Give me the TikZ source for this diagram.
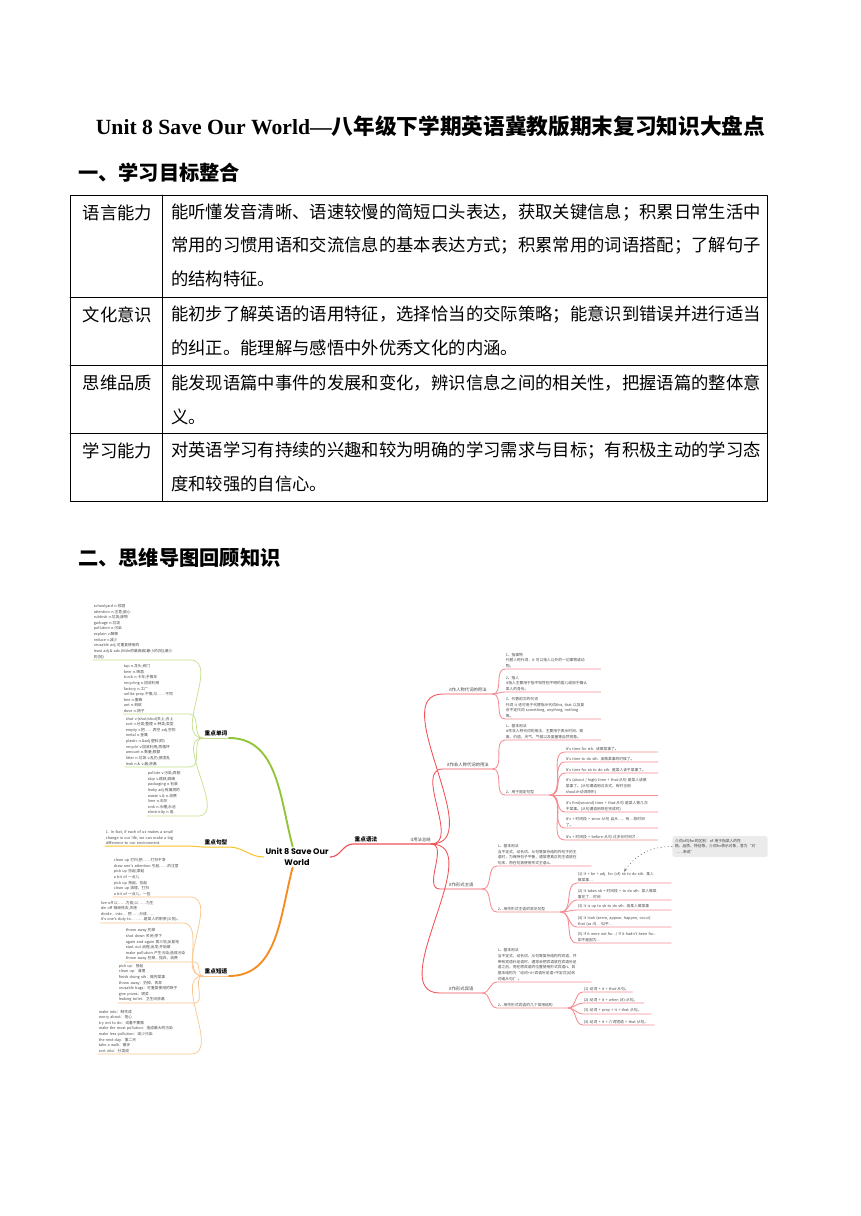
\documentclass[tikz,border=0pt]{standalone}
\usepackage{fontspec}
\setmainfont{Liberation Serif}
\newfontfamily\cjk{Noto Sans CJK SC}
\newfontfamily\pop{Poppins}
\usetikzlibrary{arrows.meta}

\definecolor{grn}{RGB}{146,196,56}
\definecolor{grnl}{RGB}{196,222,140}
\definecolor{ylw}{RGB}{250,196,40}
\definecolor{org}{RGB}{247,140,30}
\definecolor{orgl}{RGB}{250,196,140}
\definecolor{rd}{RGB}{240,82,88}
\definecolor{rdl}{RGB}{244,140,146}

\tikzset{
  cellt/.style={font=\cjk\fontsize{12}{14}\selectfont, anchor=west, inner sep=0pt},
  heading/.style={font=\cjk\bfseries\fontsize{14}{16}\selectfont, anchor=west, inner sep=0pt},
  leaf/.style={font=\cjk\fontsize{2.6}{3.9}\selectfont, text=black!72, align=left,
    text width=#1, inner xsep=0.4pt, inner ysep=0.6pt, anchor=south west},
  topic/.style={font=\cjk\bfseries\fontsize{3.9}{4.5}\selectfont, inner xsep=1pt,
    inner ysep=1.2pt, anchor=south west},
  itlbl/.style={font=\cjk\fontsize{3}{3.6}\selectfont, text=black!75, minimum width=#1,
    inner xsep=0pt, inner ysep=1pt, anchor=south west},
  twig/.style={line width=0.5pt, line cap=round},
}

\begin{document}
\begin{tikzpicture}[x=0.6922pt,y=-0.6922pt,line cap=round,line join=round]
  \useasboundingbox (0,0) rectangle (860,1216);

  % title and headings
  \node[anchor=base, inner sep=0pt, font=\fontsize{15}{18}\selectfont] (title) at (430.5,134.3)
    {\bfseries Unit 8 Save Our World—{\cjk 八年级下学期英语冀教版期末复习知识大盘点}};
  \node[heading] (h1) at (78,172.5) {一、学习目标整合};
  \node[heading] (h2) at (78,558) {二、思维导图回顾知识};

  % table
  \draw[line width=0.6pt] (70,195) rectangle (767,501);
  \draw[line width=0.6pt] (162,195) -- (162,501);
  \foreach \y in {297,365,433}
    \draw[line width=0.6pt] (70,\y) -- (767,\y);

  \node[cellt] (c1) at (82.5,213) {语言能力};
  \node[cellt] (c1a) at (171,213) {能听懂发音清晰、语速较慢的简短口头表达，获取关键信息；积累日常生活中};
  \node[cellt] (c1b) at (171,246) {常用的习惯用语和交流信息的基本表达方式；积累常用的词语搭配；了解句子};
  \node[cellt] (c1c) at (171,279) {的结构特征。};
  \node[cellt] (c2) at (82.5,315) {文化意识};
  \node[cellt] (c2a) at (171,315) {能初步了解英语的语用特征，选择恰当的交际策略；能意识到错误并进行适当};
  \node[cellt] (c2b) at (171,348) {的纠正。能理解与感悟中外优秀文化的内涵。};
  \node[cellt] (c3) at (82.5,383) {思维品质};
  \node[cellt] (c3a) at (171,383) {能发现语篇中事件的发展和变化，辨识信息之间的相关性，把握语篇的整体意};
  \node[cellt] (c3b) at (171,417) {义。};
  \node[cellt] (c4) at (82.5,451) {学习能力};
  \node[cellt] (c4a) at (171,451) {对英语学习有持续的兴趣和较为明确的学习需求与目标；有积极主动的学习态};
  \node[cellt] (c4b) at (171,484) {度和较强的自信心。};

  % mind map: root
  \node[font=\pop\bfseries\fontsize{5.6}{7.6}\selectfont, align=center, inner sep=1pt]
    (root) at (297,857) {Unit 8 Save Our\\World};

  % words (green)
  \node[topic] (kw) at (203,738) {重点单词};
  \draw[grnl, twig] (kw.south west) -- (kw.south east);
  \draw[grn, line width=1.3pt] (kw.south east) to[out=0,in=105] ([xshift=-3pt]root.north);

  \node[leaf=66pt] (gA) at (93,660) {schoolyard n.校园\\attention n.注意;留心\\rubbish n.垃圾;废物\\garbage n.垃圾\\pollution n.污染\\explain v.解释\\reduce v.减少\\reusable adj.可重复使用的\\\mbox{least adj.\& adv.(little的最高级)最小的(地);最少}\\的(地)};
  \node[leaf=45pt] (gB) at (123,714) {tap n.龙头;阀门\\beer n.啤酒\\truck n.卡车;手推车\\recycling n.回收利用\\factory n.工厂\\\mbox{unlike prep.不像;与……不同}\\bee n.蜜蜂\\ant n.蚂蚁\\dove n.鸽子};
  \node[leaf=44pt] (gC) at (125,767) {shut v.(shut/shut)关上;合上\\\mbox{sort v.分类;整理 n.种类;类型}\\empty v.把……弄空 adj.空的\\metal n.金属\\plastic n.\&adj.塑料(的)\\recycle v.回收利用;再循环\\amount n.数量;数额\\\mbox{litter n.垃圾 v.乱扔;使凌乱}\\leak n.\& v.漏;渗漏};
  \node[leaf=34pt] (gD) at (147,816) {pollute v.污染;弄脏\\skip v.跳跃;跳绳\\packaging n.包装\\leaky adj.有漏洞的\\waste v.\& n.浪费\\lime n.石灰\\sink n.水槽;水池\\electricity n.电};
  \foreach \g in {gA,gB,gC,gD}
    \draw[grnl, twig] (\g.south west) -- (\g.south east) to[out=0,in=180] (kw.south west);

  % sentence (yellow)
  \node[leaf=58pt] (ys) at (105,846) {1. In fact, if each of us makes a small\\change in our life, we can make a big\\difference to our environment.};
  \node[topic] (kj) at (203,847) {重点句型};
  \draw[ylw, line width=0.7pt] (ys.south west) -- (ys.south east) -- (kj.south west)
    -- (kj.south east) to[out=0,in=180] (root.west);

  % phrases (orange)
  \node[topic] (kp) at (203,976) {重点短语};
  \draw[orgl, twig] (kp.south west) -- (kp.south east);
  \draw[org, line width=1.3pt] (kp.south east) to[out=0,in=-105] ([xshift=-3pt]root.south);

  \node[leaf=52pt] (oA) at (113,897) {clean up 打扫;把……打扫干净\\\mbox{draw one's attention 引起……的注意}\\pick up 捡起;拿起\\a bit of 一点儿\\pick up 拾起，捡起\\clean up 清理，打扫\\a bit of 一点儿，一些};
  \node[leaf=56pt] (oB) at (100,923) {live off 以……为食;以……为生\\die off 相继死去;灭绝\\divide…into… 把……分成……\\\mbox{It's one's duty to… ……是某人的职责(义务)。}};
  \node[leaf=47pt] (oC) at (125,962) {throw away 扔掉\\shut down 关闭;停下\\again and again 再三地;反复地\\start out 启程;出发;开始做\\\mbox{make pollution 产生污染;造成污染}\\throw away 扔掉，抛弃，浪费};
  \node[leaf=52pt] (oD) at (118,1003) {pick up：拾起\\clean up：清理\\finish doing sth：做完某事\\throw away：扔掉，丢弃\\reusable bags：可重复使用的袋子\\give prizes：颁奖\\leaking toilet：卫生间渗漏};
  \node[leaf=63pt] (oE) at (98,1054) {make into：制作成\\worry about：担心\\try not to do：试着不要做\\make the most pollution：造成最大的污染\\make less pollution：减少污染\\the next day：第二天\\take a walk：散步\\sort into：分类成};
  \foreach \o in {oA,oB,oC,oD,oE}
    \draw[orgl, twig] (\o.south west) -- (\o.south east) to[out=0,in=180] (kp.south west);

  % grammar (red)
  \node[topic] (kg) at (353,844) {重点语法};
  \node[itlbl=0pt, anchor=south east] (ku) at (431,844) {it用法总结};
  \draw[rd, line width=0.8pt] (root.east) to[out=0,in=180] (kg.south west) -- (ku.south east);

  \node[itlbl=34pt] (s1) at (443,694) {it作人称代词的用法};
  \node[itlbl=34pt] (s2) at (443,769) {it作非人称代词的用法};
  \node[itlbl=29pt] (s3) at (440,889) {it作形式主语};
  \node[itlbl=29pt] (s4) at (440,993) {it作形式宾语};
  \foreach \s in {s1,s2,s3,s4}
    \draw[rd, line width=0.6pt] (ku.south east) to[out=0,in=180] (\s.south west) -- (\s.south east);

  % it as personal pronoun
  \node[leaf=65pt] (p1) at (505,669) {1、指事物\\代替人称代词，it 可以指人以外的一切事物或动\\物。};
  \node[leaf=65pt] (p2) at (505,692) {2、指人\\it指人主要用于指不知性别不明的婴儿或用于确认\\某人的身份。};
  \node[leaf=65pt] (p3) at (505,719) {3、代替前文的代词\\代词 it 还可用于代替指示代词this, that 以及复\\合不定代词 something, anything, nothing\\等。};
  \foreach \p in {p1,p2,p3}
    \draw[rdl, line width=0.6pt] (s1.south east) to[out=0,in=180] (\p.south west) -- (\p.south east);

  % it as impersonal pronoun
  \node[leaf=65pt] (q1) at (505,740) {1、基本用法\\it作非人称代词的用法，主要用于表示时间、距\\离、价值、天气、气候以及度量等自然现象。};
  \node[leaf=30pt] (q2) at (505,795) {2、用于固定句型};
  \foreach \q in {q1,q2}
    \draw[rdl, line width=0.6pt] (s2.south east) to[out=0,in=180] (\q.south west) -- (\q.south east);
  \node[leaf=63pt] (r1) at (565,752) {It's time for sth. 该做某事了。};
  \node[leaf=63pt] (r2) at (565,762) {It's time to do sth. 该做某事的时候了。};
  \node[leaf=63pt] (r3) at (565,773) {It's time for sb to do sth. 是某人该干某事了。};
  \node[leaf=63pt] (r4) at (565,795) {\mbox{It's (about / high) time + that-从句 是某人该做}\\某事了。(从句谓语用过去式，有时也用\\should+动词原形)};
  \node[leaf=63pt] (r5) at (565,812) {\mbox{It's first(second) time + that-从句 是某人第几次}\\干某事。(从句谓语用现在完成时)};
  \node[leaf=63pt] (r6) at (565,828) {It's + 时间段 + since-从句 自从…，有…段时间\\了。};
  \node[leaf=63pt] (r7) at (565,840) {It's + 时间段 + before-从句 过多长时间才…};
  \foreach \r in {r1,r2,r3,r4,r5,r6,r7}
    \draw[rdl, line width=0.6pt] (q2.south east) to[out=0,in=180] (\r.south west) -- (\r.south east);

  % it as formal subject
  \node[leaf=64pt] (t0) at (497,866) {1、基本用法\\当不定式、动名词、从句等复杂结构作句子的主\\语时，为保持句子平衡，通常把真正的主语放在\\句末，而在句首使用形式主语it。};
  \node[leaf=43pt] (tt) at (497,912) {2、用作形式主语的常见句型};
  \foreach \t in {t0,tt}
    \draw[rdl, line width=0.6pt] (s3.south east) to[out=0,in=180] (\t.south west) -- (\t.south east);
  \node[leaf=64pt] (t1) at (577,883) {\mbox{(1) It + be + adj. for (of) sb to do sth. 某人}\\做某事…};
  \node[leaf=64pt] (t2) at (577,900) {\mbox{(2) It takes sb + 时间段 + to do sth. 某人做某}\\事花了…时间};
  \node[leaf=64pt] (t3) at (577,910) {(3) It is up to sb to do sth. 由某人做某事};
  \node[leaf=64pt] (t4) at (577,927) {\mbox{(4) It look (seem, appear, happen, occur)}\\that (as if)... 似乎…};
  \node[leaf=64pt] (t5) at (577,943) {\mbox{(5) If it were not for.../ If it hadn't been for...}\\如不是因为…};
  \foreach \t in {t1,t2,t3,t4,t5}
    \draw[rdl, line width=0.6pt] (tt.south east) to[out=0,in=180] (\t.south west) -- (\t.south east);

  % note on of / for
  \node[font=\cjk\fontsize{2.6}{3.9}\selectfont, text=black!75, align=left, text width=62pt,
    fill=black!8, rounded corners=1.5pt, inner sep=2pt] (cb) at (720,846.5)
    {介词of与for的区别：of 用于指某人的性\\格、品质、特征等，介词for表示对象，意为“对\\……来说”};
  \draw[black!55, dotted, line width=0.45pt, -{Stealth[length=2.4pt,width=2pt]}]
    (cb.west) to[out=180,in=55] (t1.north);

  % it as formal object
  \node[leaf=64pt] (u1) at (497,982) {1、基本用法\\当不定式、动名词、从句等复杂结构作宾语，并\\带有宾语补足语时，通常会把宾语放在宾语补足\\语之后，而在原宾语的位置使用形式宾语it，其\\基本结构为“动词+it+宾语补足语+不定式(动名\\词或从句)”。};
  \node[leaf=48pt] (uu) at (497,1008) {2、用作形式宾语的几个常用结构};
  \foreach \u in {u1,uu}
    \draw[rdl, line width=0.6pt] (s4.south east) to[out=0,in=180] (\u.south west) -- (\u.south east);
  \node[leaf=33pt] (v1) at (583,992) {(1) 动词 + it + that-从句。};
  \node[leaf=41pt] (v2) at (583,1003) {(2) 动词 + it + when (if)-从句。};
  \node[leaf=46pt] (v3) at (583,1014) {(3) 动词 + prep + it + that 从句。};
  \node[leaf=48pt] (v4) at (583,1025) {(4) 动词 + it + 介词短语 + that 从句。};
  \foreach \v in {v1,v2,v3,v4}
    \draw[rdl, line width=0.6pt] (uu.south east) to[out=0,in=180] (\v.south west) -- (\v.south east);
\end{tikzpicture}
\end{document}
